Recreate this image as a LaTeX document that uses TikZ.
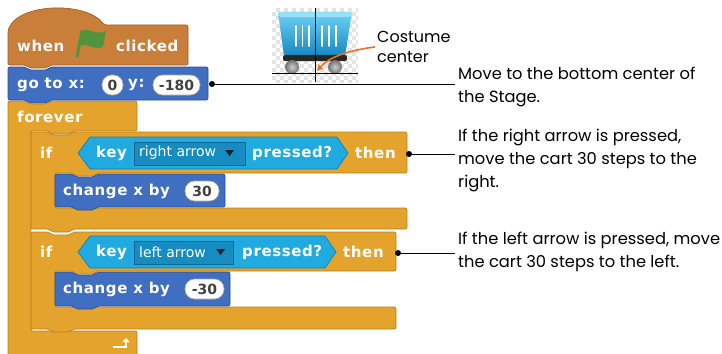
\documentclass[tikz,border=0pt]{standalone}
\usepackage{fontspec}
\usetikzlibrary{arrows.meta}
\newfontfamily\blk{DejaVu Sans}[LetterSpace=4]
\newfontfamily\drop{DejaVu Sans}
\newfontfamily\lbl{Poppins}

\definecolor{evt}{RGB}{201,126,58}
\definecolor{evtdark}{RGB}{160,96,40}
\definecolor{mot}{RGB}{64,110,192}
\definecolor{motdark}{RGB}{42,80,150}
\definecolor{ctl}{RGB}{228,163,45}
\definecolor{ctldark}{RGB}{188,128,28}
\definecolor{sen}{RGB}{32,170,224}
\definecolor{sendark}{RGB}{20,128,178}
\definecolor{dropfill}{RGB}{22,140,192}
\definecolor{dropline}{RGB}{14,104,150}
\definecolor{flaggreen}{RGB}{82,148,62}
\definecolor{callout}{RGB}{232,112,40}
\definecolor{cartlight}{RGB}{110,210,245}
\definecolor{cartdark}{RGB}{22,136,196}

% stack block outline: x, y, width, height
\newcommand\stackpath[4]{%
  (#1,#2) -- (#1+18,#2) -- (#1+21,#2+3) -- (#1+39,#2+3) -- (#1+42,#2) -- (#1+#3,#2)
  -- (#1+#3,#2+#4) -- (#1+42,#2+#4) -- (#1+39,#2+#4+3) -- (#1+21,#2+#4+3)
  -- (#1+18,#2+#4) -- (#1,#2+#4) -- cycle}
% C block outline: x, y, width, header, mouth, bottom arm, arm width
\newcommand\cpath[7]{%
  (#1,#2) -- (#1+18,#2) -- (#1+21,#2+3) -- (#1+39,#2+3) -- (#1+42,#2) -- (#1+#3,#2)
  -- (#1+#3,#2+#4) -- (#1+#7+42,#2+#4) -- (#1+#7+39,#2+#4+3) -- (#1+#7+21,#2+#4+3)
  -- (#1+#7+18,#2+#4) -- (#1+#7,#2+#4) -- (#1+#7,#2+#4+#5) -- (#1+#3,#2+#4+#5)
  -- (#1+#3,#2+#4+#5+#6) -- (#1+42,#2+#4+#5+#6) -- (#1+39,#2+#4+#5+#6+3)
  -- (#1+21,#2+#4+#5+#6+3) -- (#1+18,#2+#4+#5+#6) -- (#1,#2+#4+#5+#6) -- cycle}
% boolean hexagon: centre y, right tip x
\newcommand\boolpath[2]{%
  (78,#1) -- (90,#1-16) -- (#2-11,#1-16) -- (#2,#1) -- (#2-11,#1+16) -- (90,#1+16) -- cycle}

\begin{document}
\begin{tikzpicture}[x=1pt,y=-1pt,
  blockshape/.style={rounded corners=2, line width=0.7},
  events/.style={blockshape, fill=evt, draw=evtdark},
  motion/.style={blockshape, fill=mot, draw=motdark},
  control/.style={blockshape, fill=ctl, draw=ctldark},
  sensing/.style={line width=0.7, fill=sen, draw=sendark},
  btext/.style={anchor=west, inner sep=0, text=white, font=\blk\bfseries\fontsize{15}{18}\selectfont},
  numoval/.style={fill=white, draw=black!35, line width=0.6, rounded corners=9.5},
  numtext/.style={inner sep=0, text=black!75, font=\drop\bfseries\fontsize{14}{16}\selectfont},
  dropbox/.style={fill=dropfill, draw=dropline, line width=0.6},
  droptext/.style={anchor=west, inner sep=0, text=white, font=\drop\fontsize{14}{17}\selectfont},
  droptri/.style={fill=black!80!sen},
  note/.style={anchor=north west, inner xsep=3, inner ysep=0, align=left,
    font=\lbl\fontsize{16.3}{23}\selectfont},
  leader/.style={line width=0.9, black},
  pin/.style={black},
]
\useasboundingbox (0,0) rectangle (722,353);
\clip (0,0) rectangle (722,353);

% ---------- sprite costume with its centre cross ----------
\begin{scope}
  \clip (272,8) rectangle (358,82);
  \fill[white] (272,8) rectangle (358,82);
  \foreach \i in {0,...,21}{
    \foreach \j in {0,...,18}{
      \pgfmathtruncatemacro\k{mod(\i+\j,2)}
      \ifnum\k=1 \fill[black!11] (272+4*\i,8+4*\j) rectangle ++(4,4); \fi
    }
  }
\end{scope}
\shade[top color=cartlight, bottom color=cartdark, rounded corners=2]
  (278,12) -- (352,12) -- (345,56) -- (284,56) -- cycle;
\fill[cartlight!70!white, rounded corners=1.5] (278,12) -- (352,12) -- (351,17) -- (279,17) -- cycle;
\foreach \sx in {296,302.5,309,322,329,336}
  \draw[white, line width=1.8, line cap=round] (\sx,26) -- (\sx,46);
\fill[black!85, rounded corners=2] (283,55) rectangle (347,61);
\shade[inner color=black!20, outer color=black!55] (292,67) circle (7);
\shade[inner color=black!20, outer color=black!55] (335,67) circle (7);
\draw[black, line width=0.6] (315,8) -- (315,82);
\draw[black, line width=0.6] (272,73) -- (358,73);
\coordinate (centrecross) at (317,71);

\node[anchor=north west, inner xsep=2, inner ysep=0, align=left,
  font=\lbl\fontsize{16}{20}\selectfont] (costume) at (375,31) {Costume\\center};
\draw[callout, line width=1.6, -{Stealth[length=7,width=7]}]
  (costume.west) .. controls (345,51) and (328,58) .. (centrecross);

% ---------- forever loop ----------
\path[control] \cpath{8}{101}{129}{30}{200}{40}{23};
\node[btext] (forever) at (17,117) {forever};
\draw[white, line width=2.2, -{Triangle[length=4,width=7]}]
  (113,347) -- (126,347) -- (126,338);

% ---------- first if ----------
\path[control] \cpath{31}{132}{376}{41}{35}{21}{24};
\node[btext] (if1) at (40,153) {if};
\path[sensing] \boolpath{153}{348};
\node[btext] (key1) at (96,153) {key};
\draw[dropbox] (134,142) rectangle (245,165);
\node[droptext] (right) at (139,153) {right arrow};
\fill[droptri] (225,150) -- (234,150) -- (229.5,156) -- cycle;
\node[btext] (pr1) at (252,153) {pressed?};
\node[btext] (then1) at (355,153) {then};
\coordinate (d2) at (409,154);

\path[motion] \stackpath{55}{174}{170}{33};
\node[btext] (chg1) at (63,191) {change x by};
\draw[numoval] (185,181) rectangle (219,201);
\node[numtext] (n30) at (202,191) {30};

% ---------- second if ----------
\path[control] \cpath{31}{232}{365}{39}{36}{22}{24};
\node[btext] (if2) at (40,252) {if};
\path[sensing] \boolpath{252}{336};
\node[btext] (key2) at (96,252) {key};
\draw[dropbox] (134,241) rectangle (233,264);
\node[droptext] (left) at (139,252) {left arrow};
\fill[droptri] (216,249) -- (225,249) -- (220.5,255) -- cycle;
\node[btext] (pr2) at (242,252) {pressed?};
\node[btext] (then2) at (343,252) {then};
\coordinate (d3) at (398,253);

\path[motion] \stackpath{55}{272}{175}{34};
\node[btext] (chg2) at (63,289) {change x by};
\draw[numoval] (185,279) rectangle (224,299);
\node[numtext] (nm30) at (204.5,289) {-30};

% ---------- go to ----------
\path[motion] \stackpath{8}{67}{200}{33};
\node[btext] (goto) at (17,85) {go to x:};
\draw[numoval] (102,75) rectangle (123,95);
\node[numtext] (n0) at (112.5,85) {0};
\node[btext] (ylab) at (128,85) {y:};
\draw[numoval] (153,75) rectangle (200,95);
\node[numtext] (n180) at (176.5,85) {-180};
\coordinate (d1) at (212,84);

% ---------- hat block ----------
\path[events] (8,65) -- (8,30) .. controls (20,2) and (88,2) .. (104,25) -- (188,25)
  -- (188,65) -- (50,65) -- (47,68) -- (29,68) -- (26,65) -- cycle;
\node[btext] (when) at (17,46) {when};
\draw[flaggreen, line width=3] (77,57) -- (82,31);
\fill[flaggreen] (81,31) .. controls (89,27) and (96,36) .. (106,31)
  -- (103,47) .. controls (94,51) and (88,42) .. (78,46) -- cycle;
\node[btext] (clicked) at (116,46) {clicked};

% ---------- notes ----------
\node[note] (l1) at (455,67) {Move to the bottom center of\\the Stage.};
\node[note] (l2) at (455,129) {If the right arrow is pressed,\\move the cart 30 steps to the\\right.};
\node[note] (l3) at (455,232) {If the left arrow is pressed, move\\the cart 30 steps to the left.};

\fill[pin] (d1) circle (3);
\fill[pin] (d2) circle (3);
\fill[pin] (d3) circle (3);
\draw[leader] (d1) -- (d1 -| l1.west);
\draw[leader] (d2) -- (d2 -| l2.west);
\draw[leader] (d3) -- (d3 -| l3.west);
\end{tikzpicture}
\end{document}
